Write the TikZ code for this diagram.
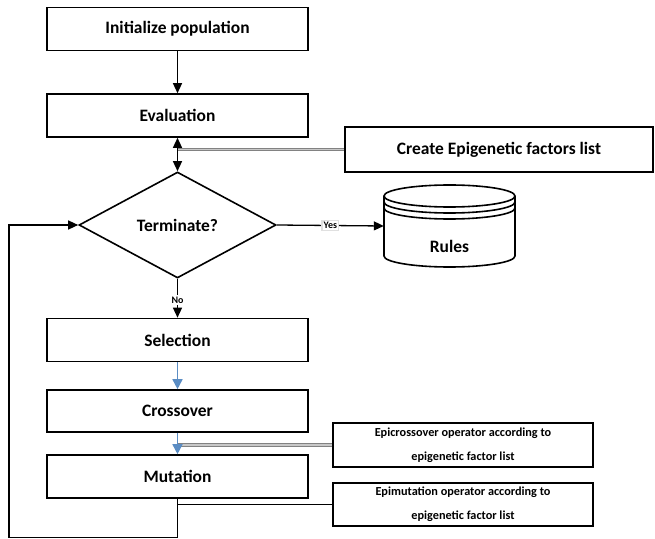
\documentclass[tikz,border=0pt]{standalone}
\usepackage{fontspec}
\setmainfont{Carlito}
\usetikzlibrary{shapes.geometric,arrows.meta}
\definecolor{flowblue}{RGB}{91,141,196}
\definecolor{linkgray}{RGB}{130,130,130}
\definecolor{linkfill}{RGB}{200,200,200}
\tikzset{
  bigtext/.style={font=\bfseries\fontsize{17.5}{20}\selectfont},
  procbox/.style={draw=black,line width=1.6bp,fill=white,minimum width=261bp,minimum height=43bp,inner sep=0pt,bigtext},
  epibox/.style={draw=black,line width=1.6bp,fill=white,minimum width=260bp,minimum height=44bp,inner sep=0pt,align=center,font=\bfseries\fontsize{12.3}{24}\selectfont},
  flow/.style={-{Triangle[length=10bp,width=9bp]},draw=black,line width=1.3bp},
  blueflow/.style={-{Triangle[length=10bp,width=10bp]},draw=flowblue,line width=1.6bp},
  graylink/.style={draw=linkgray,line width=0.9bp,double=linkfill,double distance=1.6bp},
  blacklink/.style={draw=black,line width=1.6bp},
  smalllab/.style={fill=white,draw=black!12,inner sep=1.5pt,font=\bfseries\fontsize{10}{11}\selectfont}
}
\begin{document}
\begin{tikzpicture}[x=1bp,y=-1bp]
\useasboundingbox (0,0) rectangle (655,539);

\node[procbox] (init) at (177.5,29) {Initialize population};
\node[procbox] (eval) at (177.5,115.5) {Evaluation};
\node[procbox,minimum width=308bp,minimum height=45bp] (create) at (499,149.5) {Create Epigenetic factors list};
\node[draw=black,line width=1.6bp,fill=white,diamond,inner sep=0pt,minimum width=197bp,minimum height=106bp,bigtext] (term) at (177.5,225) {Terminate?};

% cylinder
\node[minimum width=131bp,minimum height=82bp,inner sep=0pt] (rules) at (449.5,226) {};
\filldraw[fill=white,draw=black,line width=1.6bp]
  (384,196) -- (384,256) arc[start angle=180,end angle=360,x radius=65.5bp,y radius=11bp] -- (515,196);
\filldraw[fill=white,draw=black,line width=1.6bp] (449.5,196) ellipse [x radius=65.5bp,y radius=11bp];
\draw[black,line width=1.6bp] (384,202) arc[start angle=180,end angle=360,x radius=65.5bp,y radius=11bp];
\draw[black,line width=1.6bp] (384,208) arc[start angle=180,end angle=360,x radius=65.5bp,y radius=11bp];
\node[bigtext] (rulestext) at (449.5,246) {Rules};

\node[procbox] (sel) at (177.5,340) {Selection};
\node[procbox,minimum height=42bp] (cross) at (177.5,411) {Crossover};
\node[procbox] (mut) at (177.5,476.5) {Mutation};
\node[epibox] (epic) at (463,445) {Epicrossover operator according to\\ epigenetic factor list};
\node[epibox,minimum height=43bp] (epim) at (463,504.5) {Epimutation operator according to\\ epigenetic factor list};

\coordinate (lb) at (177.5,537.5);
\coordinate (ll) at (9,537.5);

% connectors
\draw[flow] (init) -- (eval);
\draw[graylink] (create.west) -- (create.west -| eval.south);
\draw[flow,{Triangle[length=10bp,width=9bp]}-{Triangle[length=10bp,width=9bp]}] (eval.south) -- (term.north);
\draw[flow] (term.east) -- node[smalllab] (yes) {Yes} (rules.west);
\draw[flow] (term.south) -- node[smalllab,draw=none,pos=0.55] (no) {No} (sel.north);
\draw[graylink] (epic.west) -- (epic.west -| cross.south);
\draw[blueflow] (sel) -- (cross);
\draw[blueflow] (cross) -- (mut);
\draw[blacklink] (epim.west) -- (epim.west -| mut.south);
\draw[flow] (mut.south) -- (lb) -- (ll) |- (term.west);
\end{tikzpicture}
\end{document}
